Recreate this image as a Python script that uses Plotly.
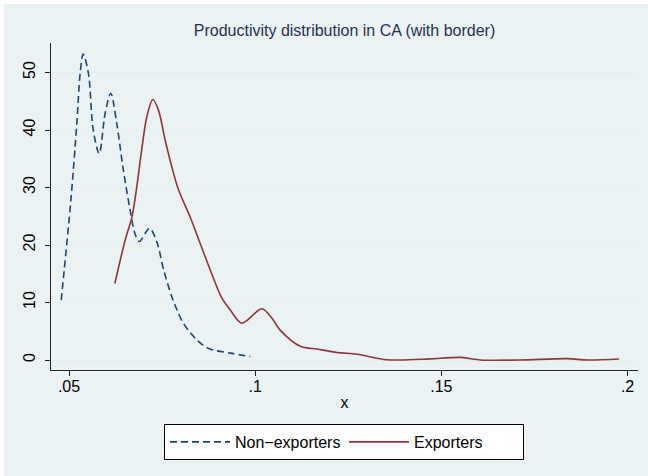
import plotly.graph_objects as go

# Kernel density estimates
non_x = [0.0479, 0.0505, 0.0521, 0.0530, 0.0538, 0.0552, 0.0565, 0.0581, 0.0597,
         0.0612, 0.0628, 0.0646, 0.0664, 0.0677, 0.0689, 0.0716, 0.0736, 0.0754,
         0.0776, 0.0790, 0.0807, 0.0843, 0.0875, 0.0933, 0.0987]
non_y = [10.4, 27.8, 41.2, 49.9, 53.2, 49.9, 40.0, 35.9, 42.9,
         46.4, 41.2, 33.0, 26.1, 22.0, 20.6, 22.9, 20.5, 15.7,
         11.0, 8.7, 6.4, 3.5, 2.0, 1.2, 0.6]

exp_x = [0.0623, 0.0651, 0.0669, 0.0682, 0.0695, 0.0709, 0.0725, 0.0740, 0.0758,
         0.0776, 0.0794, 0.0825, 0.0852, 0.0879, 0.0911, 0.0933, 0.0964, 0.1018,
         0.1045, 0.1067, 0.1121, 0.1166, 0.1220, 0.1273, 0.1345, 0.1390, 0.1470,
         0.1553, 0.1605, 0.1710, 0.1838, 0.1892, 0.1977]
exp_y = [13.3, 20.9, 24.9, 30.1, 36.5, 42.3, 45.3, 43.5, 38.3,
         33.6, 29.6, 24.9, 20.3, 15.7, 10.7, 8.7, 6.4, 8.9,
         7.25, 5.2, 2.4, 1.9, 1.3, 1.0, 0.1, 0.0, 0.2,
         0.45, 0.0, 0.0, 0.23, 0.0, 0.17]

x_ticks = [0.05, 0.1, 0.15, 0.2]
x_labels = [".05", ".1", ".15", ".2"]
y_ticks = [0, 10, 20, 30, 40, 50]
y_labels = ["0", "10", "20", "30", "40", "50"]

NAVY = "#1A476F"
MAROON = "#90353B"
BG = "#EAF2F3"
FONT = "Arial, Liberation Sans, sans-serif"

fig = go.Figure()
fig.add_trace(go.Scatter(x=non_x, y=non_y, mode="lines", name="Non\u2212exporters",
                         line=dict(color=NAVY, width=1.6, dash="7px,4px", shape="spline", smoothing=0.9)))
fig.add_trace(go.Scatter(x=exp_x, y=exp_y, mode="lines", name="Exporters",
                         line=dict(color=MAROON, width=1.6, shape="spline", smoothing=0.9)))

# outer graph background (white 4px frame on top/left)
L, R, T, B = 51, 10, 43, 106
W, H = 648, 476
pw, ph = W - L - R, H - T - B
def px(xp):
    return (xp - L) / pw
def py(yp):
    return (H - B - yp) / ph

fig.add_shape(type="rect", xref="paper", yref="paper", x0=px(4), x1=px(W + 2),
              y0=py(H + 2), y1=py(4), fillcolor=BG, line=dict(width=0), layer="below")

fig.update_layout(
    width=W, height=H,
    margin=dict(l=L, r=R, t=T, b=B, autoexpand=False),
    paper_bgcolor="white",
    plot_bgcolor="white",
    font=dict(family=FONT, size=16, color="black"),
    title=dict(text="Productivity distribution in CA (with border)", x=0.5, xanchor="center",
               xref="paper", y=1 - 30 / H, yanchor="middle",
               font=dict(size=16, color="#1F3150", family=FONT)),
    showlegend=True,
    legend=dict(orientation="h", x=px(344), xanchor="center", y=py(424), yanchor="top",
                bgcolor="white", bordercolor="black", borderwidth=1,
                font=dict(size=16, color="black", family=FONT), itemwidth=60,
                entrywidth=104,
                itemclick=False, itemdoubleclick=False),
    hovermode=False,
)
fig.update_xaxes(range=[0.04516, 0.2028], tickvals=x_ticks, ticktext=x_labels, automargin=False,
                 showgrid=False, zeroline=False, showline=True, linecolor="#222222", linewidth=1,
                 ticks="outside", ticklen=5, tickcolor="#222222", ticklabelstandoff=-3,
                 title=dict(text="x", standoff=2, font=dict(size=16)))
fig.update_yaxes(range=[-1.74, 55.13], tickvals=y_ticks, ticktext=y_labels, tickangle=-90,
                 automargin=False, ticklabelstandoff=4,
                 showgrid=True, gridcolor="#E4EDEF", gridwidth=1, zeroline=False,
                 showline=True, linecolor="#222222", linewidth=1,
                 ticks="outside", ticklen=5, tickcolor="#222222")

fig.write_html("out.html", config={"displayModeBar": False},
               post_script="document.body.style.margin='0';document.body.style.padding='0';")
